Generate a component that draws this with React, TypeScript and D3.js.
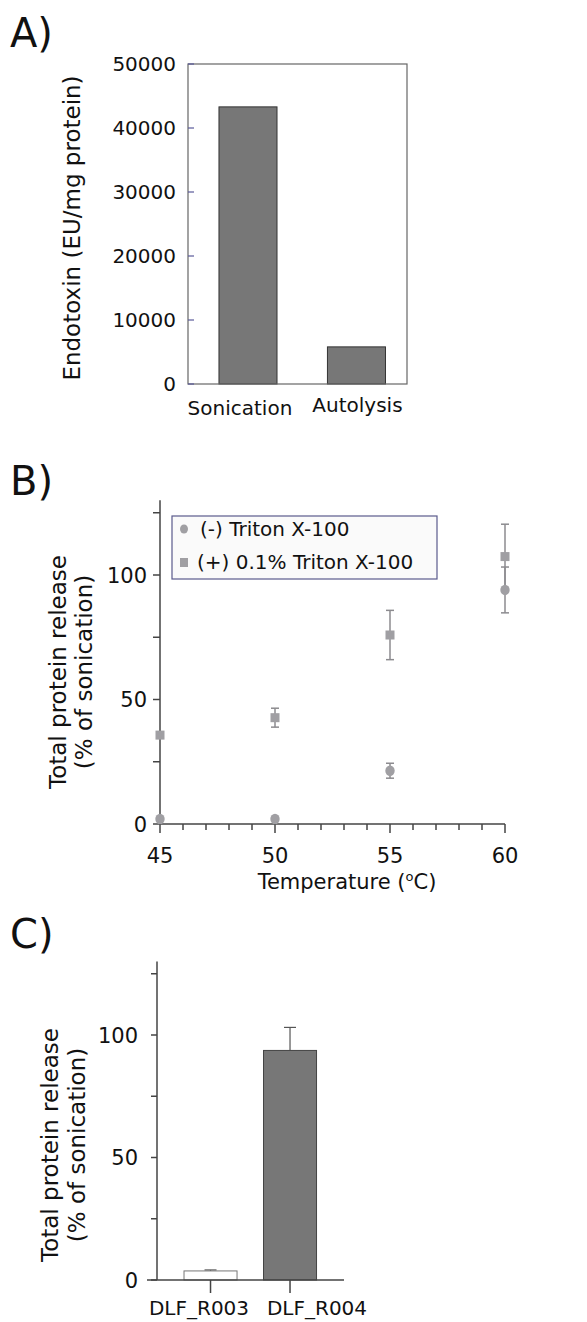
import * as d3 from "d3";

// panel A
const endoCategories = ["Sonication", "Autolysis"];
const endoValues = [43300, 5800];
const endoTicks = [0, 10000, 20000, 30000, 40000, 50000];

// panel B
const temps = [45, 50, 55, 60];
const noTritonMean = [2, 2, 21.4, 94];
const noTritonErr = [0, 0, 3, 9.2];
const tritonMean = [35.7, 42.7, 75.9, 107.4];
const tritonErr = [0, 3.8, 9.9, 13];
const releaseTicks = [0, 50, 100];

// panel C
const strains = ["DLF_R003", "DLF_R004"];
const strainMean = [3.7, 93.7];
const strainErr = [0.4, 9.4];

const font = "'DejaVu Sans', sans-serif";
const markerFill = "#a09fa3";
const errColor = "#8c8b8f";
const titleSize = 23;

function PanelA() {
  const y = d3.scaleLinear().domain([0, 50000]).range([384, 64]);
  const x = d3
    .scaleBand()
    .domain(endoCategories)
    .range([188, 407])
    .paddingInner(0.465)
    .paddingOuter(0.242)
    .align(0.59);
  return (
    <g>
      <text x={10} y={47} fontSize={40}>A)</text>
      {endoValues.map((v, i) => (
        <rect
          key={i}
          x={x(endoCategories[i])}
          y={y(v)}
          width={x.bandwidth()}
          height={y(0) - y(v)}
          fill="#777777"
          stroke="#333"
          strokeWidth={1}
        />
      ))}
      <rect x={188} y={y(50000)} width={219} height={y(0) - y(50000)} fill="none" stroke="#666" strokeWidth={1.2} />
      {endoTicks.map((t) => (
        <g key={t}>
          <line x1={188} x2={194} y1={y(t)} y2={y(t)} stroke="#5a5a9a" strokeWidth={1.2} />
          <text x={176} y={y(t)} dy="0.36em" textAnchor="end" fontSize={20}>{t}</text>
        </g>
      ))}
      {endoCategories.map((c, i) => (
        <text key={c} x={x(c)! + x.bandwidth() / 2 - (i === 0 ? 8 : -1)} y={i === 0 ? 415 : 412} textAnchor="middle" fontSize={20}>
          {c}
        </text>
      ))}
      <text transform="translate(80,228) rotate(-90)" textAnchor="middle" fontSize={titleSize}>
        Endotoxin (EU/mg protein)
      </text>
    </g>
  );
}

function ErrBar({ x, y0, y1, cap }: { x: number; y0: number; y1: number; cap: number }) {
  return (
    <g stroke={errColor} strokeWidth={1.5}>
      <line x1={x} x2={x} y1={y0} y2={y1} />
      <line x1={x - cap / 2} x2={x + cap / 2} y1={y0} y2={y0} />
      <line x1={x - cap / 2} x2={x + cap / 2} y1={y1} y2={y1} />
    </g>
  );
}

function PanelB() {
  const x = d3.scaleLinear().domain([45, 60]).range([160, 505]);
  const y = d3.scaleLinear().domain([0, 130]).range([824, 500.3]);
  const yTicks = d3.range(0, 126, 25);
  const xTicks = d3.range(45, 61, 1);
  return (
    <g>
      <text x={10} y={495} fontSize={40}>B)</text>
      <g stroke="#444" strokeWidth={1.5}>
        <line x1={x(45)} x2={x(45)} y1={y(130)} y2={y(0)} />
        <line x1={x(45)} x2={x(60)} y1={y(0)} y2={y(0)} />
        {yTicks.map((t) => (
          <line key={t} x1={x(45) - 7} x2={x(45)} y1={y(t)} y2={y(t)} />
        ))}
        {xTicks.map((t) => (
          <line key={t} x1={x(t)} x2={x(t)} y1={y(0)} y2={y(0) + (t % 5 === 0 ? 9 : 6)} />
        ))}
      </g>
      {releaseTicks.map((t) => (
        <text key={t} x={147} y={y(t)} dy="0.36em" textAnchor="end" fontSize={21}>{t}</text>
      ))}
      {temps.map((t) => (
        <text key={t} x={x(t)} y={863} textAnchor="middle" fontSize={21}>{t}</text>
      ))}
      <text x={347} y={889} textAnchor="middle" fontSize={21}>
        Temperature (<tspan fontSize={13} dy={-8}>o</tspan><tspan dy={8}>C)</tspan>
      </text>
      <text transform="translate(66,672) rotate(-90)" textAnchor="middle" fontSize={titleSize}>
        Total protein release
      </text>
      <text transform="translate(92,672) rotate(-90)" textAnchor="middle" fontSize={titleSize}>
        (% of sonication)
      </text>
      {temps.map((t, i) =>
        tritonErr[i] > 0 ? (
          <ErrBar key={"te" + t} x={x(t)} y0={y(tritonMean[i] + tritonErr[i])} y1={y(tritonMean[i] - tritonErr[i])} cap={8} />
        ) : null
      )}
      {temps.map((t, i) =>
        noTritonErr[i] > 0 ? (
          <ErrBar key={"ne" + t} x={x(t)} y0={y(noTritonMean[i] + noTritonErr[i])} y1={y(noTritonMean[i] - noTritonErr[i])} cap={8} />
        ) : null
      )}
      {temps.map((t, i) => (
        <rect key={"ts" + t} x={x(t) - 4.5} y={y(tritonMean[i]) - 4.5} width={9} height={9} fill={markerFill} />
      ))}
      {temps.map((t, i) => (
        <ellipse key={"nc" + t} cx={x(t)} cy={y(noTritonMean[i])} rx={4.7} ry={5.2} fill={markerFill} />
      ))}
      <rect x={172} y={516} width={265} height={63} fill="#fafafa" stroke="#5a5a8c" strokeWidth={1.2} />
      <ellipse cx={184} cy={529} rx={4} ry={4.5} fill={markerFill} />
      <text x={200} y={536} fontSize={20}>(-) Triton X-100</text>
      <rect x={180} y={558} width={8} height={9} fill={markerFill} />
      <text x={197} y={569} fontSize={20}>(+) 0.1% Triton X-100</text>
    </g>
  );
}

function PanelC() {
  const y = d3.scaleLinear().domain([0, 130]).range([1280, 961.5]);
  const x = d3
    .scaleBand()
    .domain(strains)
    .range([147, 344])
    .paddingInner(0.333)
    .paddingOuter(0.4055)
    .align(0.574);
  const labelX = d3.scalePoint().domain(strains).range([199, 317]);
  const yTicks = d3.range(0, 126, 25);
  return (
    <g>
      <text x={10} y={948} fontSize={40}>C)</text>
      {strainMean.map((v, i) => {
        const cx = x(strains[i])! + x.bandwidth() / 2;
        return (
          <g key={i}>
            <line x1={cx} x2={cx} y1={y(v)} y2={y(v + strainErr[i])} stroke="#555" strokeWidth={1.2} />
            <line x1={cx - 6} x2={cx + 6} y1={y(v + strainErr[i])} y2={y(v + strainErr[i])} stroke="#555" strokeWidth={1.2} />
            <rect
              x={x(strains[i])}
              y={y(v)}
              width={x.bandwidth()}
              height={y(0) - y(v)}
              fill={i === 0 ? "#ffffff" : "#777777"}
              stroke={i === 0 ? "#777" : "#444"}
              strokeWidth={1}
            />
          </g>
        );
      })}
      <g stroke="#444" strokeWidth={1.5}>
        <line x1={157} x2={157} y1={y(130)} y2={y(0)} />
        <line x1={147} x2={344} y1={y(0)} y2={y(0)} />
        {yTicks.map((t) => (
          <line key={t} x1={151} x2={157} y1={y(t)} y2={y(t)} />
        ))}
        {strains.map((s) => (
          <line key={s} x1={x(s)! + x.bandwidth() / 2} x2={x(s)! + x.bandwidth() / 2} y1={y(0)} y2={y(0) + 13} />
        ))}
      </g>
      {releaseTicks.map((t) => (
        <text key={t} x={138} y={y(t)} dy="0.36em" textAnchor="end" fontSize={21}>{t}</text>
      ))}
      {strains.map((s) => (
        <text key={s} x={labelX(s)} y={1315} textAnchor="middle" fontSize={20}>{s}</text>
      ))}
      <text transform="translate(58,1145) rotate(-90)" textAnchor="middle" fontSize={titleSize}>
        Total protein release
      </text>
      <text transform="translate(85,1145) rotate(-90)" textAnchor="middle" fontSize={titleSize}>
        (% of sonication)
      </text>
    </g>
  );
}

export default function App() {
  return (
    <svg
      width={587}
      height={1322}
      style={{ position: "absolute", left: 0, top: 0, background: "#fff" }}
      fontFamily={font}
      fill="#111"
    >
      <PanelA />
      <PanelB />
      <PanelC />
    </svg>
  );
}
